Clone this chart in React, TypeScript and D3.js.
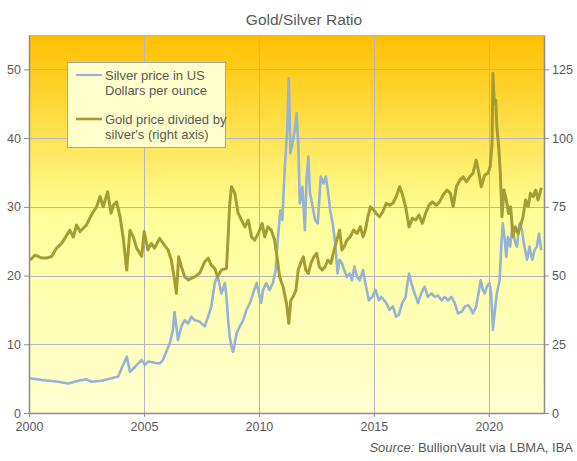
import React, { useRef, useEffect } from "react";
import * as d3 from "d3";

// silver price, US$ per ounce (left axis)
const silverDates = [
  2000.04, 2000.55, 2001.27, 2001.71, 2002.14, 2002.5, 2002.72, 2003.16, 2003.6, 2003.88,
  2004.03, 2004.25, 2004.39, 2004.61, 2004.9, 2005.04, 2005.19, 2005.46, 2005.68, 2005.83,
  2005.97, 2006.12, 2006.26, 2006.33, 2006.48, 2006.63, 2006.77, 2006.92, 2007.06, 2007.21,
  2007.42, 2007.64, 2007.79, 2007.93, 2008.08, 2008.2, 2008.37, 2008.52, 2008.59, 2008.66,
  2008.73, 2008.81, 2008.88, 2009.03, 2009.17, 2009.32, 2009.46, 2009.61, 2009.75, 2009.9,
  2010.04, 2010.1, 2010.18, 2010.32, 2010.46, 2010.61, 2010.73, 2010.83, 2010.93, 2011.02,
  2011.12, 2011.23, 2011.3, 2011.37, 2011.46, 2011.56, 2011.64, 2011.71, 2011.78, 2011.89,
  2012.0, 2012.07, 2012.15, 2012.22, 2012.34, 2012.44, 2012.56, 2012.69, 2012.81, 2012.91,
  2013.0, 2013.1, 2013.21, 2013.32, 2013.42, 2013.51, 2013.61, 2013.71, 2013.83, 2013.95,
  2014.05, 2014.15, 2014.27, 2014.39, 2014.53, 2014.63, 2014.78, 2014.93, 2015.07, 2015.22,
  2015.32, 2015.54, 2015.68, 2015.83, 2015.97, 2016.09, 2016.23, 2016.38, 2016.44, 2016.53,
  2016.63, 2016.77, 2016.92, 2017.06, 2017.21, 2017.35, 2017.5, 2017.65, 2017.79, 2017.94,
  2018.08, 2018.23, 2018.37, 2018.52, 2018.66, 2018.81, 2018.96, 2019.1, 2019.24, 2019.31,
  2019.45, 2019.55, 2019.65, 2019.74, 2019.82, 2019.92, 2020.03, 2020.1, 2020.18, 2020.25,
  2020.35, 2020.47, 2020.54, 2020.61, 2020.69, 2020.76, 2020.83, 2020.93, 2021.02, 2021.12,
  2021.22, 2021.34, 2021.44, 2021.55, 2021.66, 2021.77, 2021.89, 2021.99, 2022.09, 2022.18,
  2022.28,
];
const silverValues = [
  5.05, 4.8, 4.55, 4.3, 4.7, 4.9, 4.55, 4.7, 5.05, 5.3,
  6.5, 8.2, 6.0, 6.7, 7.7, 7.0, 7.5, 7.3, 7.2, 7.7,
  8.9, 10.1, 12.1, 14.7, 10.6, 12.6, 13.5, 13.0, 14.0, 13.5,
  13.3, 12.6, 14.0, 15.5, 18.9, 20.0, 17.4, 18.9, 16.9, 13.5,
  11.1, 9.6, 8.9, 11.6, 12.6, 13.5, 15.0, 16.0, 17.4, 18.9,
  16.9, 16.0, 17.9, 18.9, 17.9, 18.9, 20.8, 25.6, 29.5, 28.1,
  35.4, 41.2, 48.7, 37.8, 39.2, 41.2, 43.6, 39.2, 30.5, 32.9,
  26.6, 33.9, 37.3, 32.0, 30.0, 28.1, 27.6, 34.4, 33.4, 34.4,
  32.4, 29.5, 27.6, 24.7, 20.3, 22.3, 21.8, 20.8, 19.8, 20.3,
  19.3, 21.3, 19.8, 19.3, 20.8, 18.9, 16.4, 16.9, 17.9, 16.4,
  16.9, 16.0, 15.0, 15.5, 14.0, 14.3, 16.0, 16.9, 18.4, 20.3,
  18.9, 17.4, 16.0, 17.4, 18.4, 16.9, 17.4, 16.9, 17.1, 16.4,
  16.9, 16.4, 16.9, 16.0, 14.5, 14.7, 15.5, 15.7, 15.0, 14.5,
  15.5, 17.4, 19.3, 17.9, 17.4, 18.4, 18.9, 17.4, 12.1, 14.5,
  17.4, 19.3, 24.2, 27.6, 25.2, 22.7, 25.6, 24.2, 27.1, 25.2,
  24.2, 27.6, 26.6, 24.2, 22.3, 24.2, 22.3, 23.7, 24.2, 26.1,
  23.7,
];

// gold price divided by silver price (right axis)
const ratioDates = [
  2000.04, 2000.26, 2000.55, 2000.77, 2000.99, 2001.2, 2001.42, 2001.64, 2001.78, 2001.93,
  2002.07, 2002.22, 2002.36, 2002.5, 2002.65, 2002.8, 2002.94, 2003.09, 2003.23, 2003.42,
  2003.57, 2003.67, 2003.81, 2003.96, 2004.1, 2004.25, 2004.39, 2004.54, 2004.68, 2004.9,
  2005.01, 2005.17, 2005.32, 2005.46, 2005.68, 2005.9, 2006.05, 2006.19, 2006.33, 2006.41,
  2006.51, 2006.63, 2006.77, 2006.92, 2007.06, 2007.21, 2007.42, 2007.64, 2007.79, 2007.93,
  2008.08, 2008.2, 2008.37, 2008.59, 2008.66, 2008.73, 2008.81, 2008.95, 2009.1, 2009.24,
  2009.39, 2009.54, 2009.68, 2009.82, 2009.97, 2010.03, 2010.14, 2010.25, 2010.39, 2010.54,
  2010.68, 2010.79, 2010.9, 2011.05, 2011.2, 2011.3, 2011.39, 2011.49, 2011.61, 2011.71,
  2011.81, 2011.93, 2012.04, 2012.15, 2012.26, 2012.39, 2012.51, 2012.63, 2012.75, 2012.88,
  2013.0, 2013.13, 2013.27, 2013.39, 2013.51, 2013.61, 2013.71, 2013.83, 2013.97, 2014.12,
  2014.27, 2014.41, 2014.53, 2014.63, 2014.74, 2014.85, 2015.0, 2015.1, 2015.25, 2015.39,
  2015.54, 2015.68, 2015.83, 2015.97, 2016.12, 2016.23, 2016.38, 2016.53, 2016.67, 2016.82,
  2016.96, 2017.11, 2017.25, 2017.4, 2017.54, 2017.72, 2017.86, 2018.01, 2018.18, 2018.33,
  2018.45, 2018.59, 2018.74, 2018.88, 2019.03, 2019.17, 2019.31, 2019.45, 2019.57, 2019.67,
  2019.82, 2019.96, 2020.06, 2020.14, 2020.18, 2020.24, 2020.3, 2020.35, 2020.43, 2020.5,
  2020.57, 2020.66, 2020.76, 2020.86, 2020.95, 2021.05, 2021.15, 2021.27, 2021.37, 2021.49,
  2021.6, 2021.71, 2021.81, 2021.93, 2022.04, 2022.14, 2022.26, 2022.29,
];
const ratioValues = [
  55.6, 57.4, 56.4, 56.4, 57, 60, 61.7, 64.7, 66.5, 64,
  68.4, 66, 67.2, 68.4, 71, 73.2, 75, 78.7, 75, 80.5,
  72.7, 75.6, 76.8, 71.4, 63.5, 52, 66.5, 64, 60, 57,
  66, 59.3, 61.7, 60, 63.5, 61, 59.3, 55.6, 48.4, 43.5,
  56.8, 53.2, 49.6, 48.4, 49, 49.6, 50.8, 55, 56.3, 53.8,
  52.6, 49.6, 52, 52.6, 64, 76.2, 82.3, 80, 72.6, 70.2,
  67.7, 70.2, 64, 62.9, 65.3, 66.5, 69, 64.1, 67.7, 66.5,
  62.9, 56.8, 49.6, 45.9, 39.9, 32.6, 41.1, 42.3, 44.7, 52,
  54.4, 56.8, 52, 50.8, 54.4, 56.8, 58.1, 53.2, 52, 53.2,
  55.6, 54.4, 59.3, 62.9, 66.5, 59.3, 60.5, 62.9, 64.1, 66.5,
  65.3, 67.7, 64.1, 66.5, 71.4, 75, 73.8, 72.6, 71.4, 73.2,
  76.3, 75.6, 76.3, 78.7, 82.3, 79.9, 75, 67.7, 70.8, 70.2,
  72, 69, 72.6, 75.6, 76.8, 75.6, 76.8, 79.3, 81.1, 79.9,
  75, 82.3, 84.7, 85.9, 84.1, 85.9, 87.2, 92, 87.2, 82.3,
  86.5, 87.2, 89.6, 98, 123.5, 112.6, 113.8, 104.1, 96.8, 87.2,
  71.4, 81.1, 77.5, 72.6, 75, 64.1, 67.7, 65.3, 67.7, 71.4,
  77.5, 75, 79.9, 78.7, 81.1, 77.5, 81.1, 81.9,
];

const yearTicks = [2000, 2005, 2010, 2015, 2020];
const leftTicks = [0, 10, 20, 30, 40, 50];
const rightTicks = [0, 25, 50, 75, 100, 125];

const W = 577;
const H = 461;
const M = { top: 35, right: 33, bottom: 48, left: 29 };
const FONT = '"Liberation Sans", Arial, sans-serif';
const TEXT = "#595959";
const SILVER = "#95b3d7";
const RATIO = "#a39d34";

const App: React.FC = () => {
  const svgRef = useRef<SVGSVGElement | null>(null);

  useEffect(() => {
    if (!svgRef.current) return;
    const svg = d3.select(svgRef.current);
    svg.selectAll("*").remove();

    const x0 = M.left;
    const x1 = W - M.right;
    const y0 = H - M.bottom;
    const y1 = M.top;

    const x = d3.scaleLinear().domain([2000, 2022.4]).range([x0, x1]);
    const yL = d3.scaleLinear().domain([0, 55]).range([y0, y1]);
    const yR = d3.scaleLinear().domain([0, 137.5]).range([y0, y1]);

    // background gradient
    const grad = svg
      .append("defs")
      .append("linearGradient")
      .attr("id", "bg")
      .attr("x1", 0)
      .attr("y1", 0)
      .attr("x2", 0)
      .attr("y2", 1);
    grad.append("stop").attr("offset", "0%").attr("stop-color", "#ffc000");
    grad.append("stop").attr("offset", "22%").attr("stop-color", "#ffdd44");
    grad.append("stop").attr("offset", "48%").attr("stop-color", "#ffff99");
    grad.append("stop").attr("offset", "100%").attr("stop-color", "#ffffd2");

    svg
      .append("rect")
      .attr("x", x0)
      .attr("y", y1)
      .attr("width", x1 - x0)
      .attr("height", y0 - y1)
      .attr("fill", "url(#bg)");

    // grid
    const grid = svg.append("g").attr("stroke", "#b4b4c6").attr("stroke-width", 1);
    leftTicks.slice(1).forEach((t) => {
      grid
        .append("line")
        .attr("x1", x0)
        .attr("x2", x1)
        .attr("y1", Math.round(yL(t)) + 0.5)
        .attr("y2", Math.round(yL(t)) + 0.5);
    });
    grid
      .append("line")
      .attr("x1", x0)
      .attr("x2", x1)
      .attr("y1", y1 + 0.5)
      .attr("y2", y1 + 0.5);
    yearTicks.slice(1).forEach((t) => {
      grid
        .append("line")
        .attr("x1", Math.round(x(t)) + 0.5)
        .attr("x2", Math.round(x(t)) + 0.5)
        .attr("y1", y1)
        .attr("y2", y0);
    });

    // series
    const silverLine = d3
      .line<number>()
      .x((_, i) => x(silverDates[i]))
      .y((d) => yL(d));
    const ratioLine = d3
      .line<number>()
      .x((_, i) => x(ratioDates[i]))
      .y((d) => yR(d));

    svg
      .append("path")
      .attr("d", silverLine(silverValues))
      .attr("fill", "none")
      .attr("stroke", SILVER)
      .attr("stroke-width", 2.6)
      .attr("stroke-linejoin", "round");
    svg
      .append("path")
      .attr("d", ratioLine(ratioValues))
      .attr("fill", "none")
      .attr("stroke", RATIO)
      .attr("stroke-width", 3)
      .attr("stroke-linejoin", "round");

    // axes
    const axisColor = "#8c8c8c";
    const styleAxis = (g: d3.Selection<SVGGElement, unknown, null, undefined>) => {
      g.select(".domain").attr("stroke", axisColor).attr("stroke-width", 1.5);
      g.selectAll(".tick line").attr("stroke", axisColor);
      g.selectAll(".tick text")
        .attr("fill", TEXT)
        .attr("font-size", 12.5)
        .attr("font-family", FONT);
    };

    svg
      .append("g")
      .attr("transform", `translate(${x0},0)`)
      .call(d3.axisLeft(yL).tickValues(leftTicks).tickSize(5).tickPadding(3).tickSizeOuter(0))
      .call(styleAxis);
    svg
      .append("g")
      .attr("transform", `translate(${x1},0)`)
      .call(d3.axisRight(yR).tickValues(rightTicks).tickSize(5).tickPadding(3).tickSizeOuter(0))
      .call(styleAxis);
    svg
      .append("g")
      .attr("transform", `translate(0,${y0})`)
      .call(
        d3
          .axisBottom(x)
          .tickValues(yearTicks)
          .tickFormat((d) => String(d))
          .tickSize(4)
          .tickPadding(5)
          .tickSizeOuter(0)
      )
      .call(styleAxis);

    // title
    svg
      .append("text")
      .attr("x", 304)
      .attr("y", 25)
      .attr("text-anchor", "middle")
      .attr("fill", TEXT)
      .attr("font-size", 15.5)
      .attr("font-family", FONT)
      .text("Gold/Silver Ratio");

    // source
    const src = svg
      .append("text")
      .attr("x", W - 4)
      .attr("y", 452)
      .attr("text-anchor", "end")
      .attr("fill", TEXT)
      .attr("font-size", 13)
      .attr("font-family", FONT);
    src.append("tspan").attr("font-style", "italic").text("Source:");
    src.append("tspan").text(" BullionVault via LBMA, IBA");

    // legend
    const lg = svg.append("g");
    lg.append("rect")
      .attr("x", 67.5)
      .attr("y", 62.5)
      .attr("width", 158)
      .attr("height", 85)
      .attr("fill", "#ffffcc")
      .attr("stroke", "#a6a6a6");
    const items = [
      { color: SILVER, w: 2.2, y: 75, lines: ["Silver price in US", "Dollars per ounce"] },
      { color: RATIO, w: 2.6, y: 119, lines: ["Gold price divided by", "silver's (right axis)"] },
    ];
    items.forEach((it) => {
      lg.append("line")
        .attr("x1", 76)
        .attr("x2", 102)
        .attr("y1", it.y)
        .attr("y2", it.y)
        .attr("stroke", it.color)
        .attr("stroke-width", it.w);
      it.lines.forEach((s, i) => {
        lg.append("text")
          .attr("x", 105)
          .attr("y", it.y + 4.5 + i * 15)
          .attr("fill", TEXT)
          .attr("font-size", 13)
          .attr("font-family", FONT)
          .text(s);
      });
    });
  }, []);

  return (
    <>
      <style>{"body{margin:0}"}</style>
      <svg ref={svgRef} width={W} height={H} style={{ display: "block", background: "#fff" }} />
    </>
  );
};

export default App;
